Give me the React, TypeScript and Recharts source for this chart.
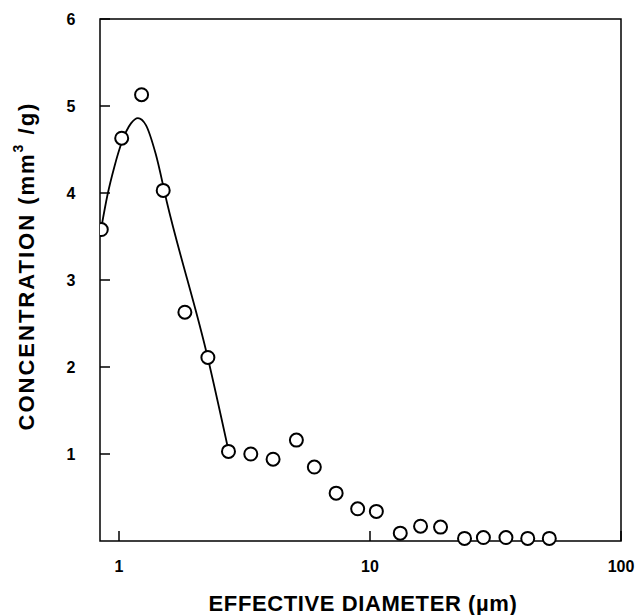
import { ComposedChart, Line, Scatter, XAxis, YAxis, ReferenceArea } from "recharts";

// measured points: effective diameter (µm) vs concentration (mm3/g)
const diameters = [0.85, 1.025, 1.23, 1.5, 1.83, 2.26, 2.73, 3.35, 4.11, 5.09, 6.0, 7.33, 8.93, 10.6, 13.2, 15.9, 19.1, 23.8, 28.3, 34.8, 42.5, 51.8];
const concentrations = [3.58, 4.63, 5.13, 4.03, 2.63, 2.11, 1.03, 1.0, 0.94, 1.16, 0.85, 0.55, 0.37, 0.34, 0.09, 0.17, 0.16, 0.03, 0.04, 0.04, 0.03, 0.03];

// fitted curve
const curveX = [0.85, 0.9, 0.958, 1.025, 1.116, 1.19, 1.28, 1.4, 1.55, 2.26, 2.73];
const curveY = [3.6, 3.98, 4.3, 4.58, 4.8, 4.86, 4.78, 4.45, 3.9, 2.1, 1.04];

const xTicks = [1, 10, 100];
const yTicks = [1, 2, 3, 4, 5, 6];

const points = diameters.map((d, i) => ({ d, c: concentrations[i] }));
const curve = curveX.map((d, i) => ({ d, c: curveY[i] }));

const font = "'Liberation Sans', Arial, sans-serif";

const XTick = ({ x, y, payload }: any) => (
  <g>
    <line x1={x} x2={x} y1={y} y2={y - 10} stroke="#000" strokeWidth={1.5} />
    <text x={x} y={y + 25} textAnchor="middle" dominantBaseline="central" fontFamily={font} fontWeight="bold" fontSize={16} fill="#000">
      {payload.value}
    </text>
  </g>
);

const YTick = ({ x, y, payload }: any) => (
  <g>
    <line x1={x} x2={x + 10} y1={y} y2={y} stroke="#000" strokeWidth={1.5} />
    <text x={x - 29} y={y} textAnchor="middle" dominantBaseline="central" fontFamily={font} fontWeight="bold" fontSize={16} fill="#000">
      {payload.value}
    </text>
  </g>
);

const YTitle = () => (
  <text x={26} y={266} transform="rotate(-90 26 266)" textAnchor="middle" dominantBaseline="central" fontFamily={font} fontWeight="bold" fontSize={22} letterSpacing={2} fill="#000">
    CONCENTRATION (mm<tspan fontSize={14} dy={-8}>3</tspan><tspan dy={8}> /g)</tspan>
  </text>
);

const XTitle = () => (
  <text x={363} y={603} textAnchor="middle" dominantBaseline="central" fontFamily={font} fontWeight="bold" fontSize={22} letterSpacing={0.6} fill="#000">
    EFFECTIVE DIAMETER (µm)
  </text>
);

const Circle = ({ cx, cy }: any) => <circle cx={cx} cy={cy} r={6.5} fill="#fff" stroke="#000" strokeWidth={2} />;

export default function App() {
  return (
    <div style={{ position: "absolute", left: 0, top: 0, background: "#fff" }}>
      <ComposedChart width={642} height={615} margin={{ top: 19, right: 21, left: 0, bottom: 0 }}>
        <XAxis
          dataKey="d"
          type="number"
          scale="log"
          domain={[0.84, 100]}
          allowDataOverflow
          ticks={xTicks}
          height={74}
          tickSize={0}
          tickMargin={0}
          axisLine={false}
          tick={<XTick />}
          label={<XTitle />}
        />
        <YAxis
          dataKey="c"
          type="number"
          domain={[0, 6]}
          ticks={yTicks}
          width={100}
          tickSize={0}
          tickMargin={0}
          axisLine={false}
          tick={<YTick />}
          label={<YTitle />}
        />
        <ReferenceArea x1={0.84} x2={100} y1={0} y2={6} fill="none" stroke="#000" strokeWidth={1.5} />
        <Line data={curve} dataKey="c" type="monotone" stroke="#000" strokeWidth={1.8} dot={false} isAnimationActive={false} />
        <Scatter data={points} dataKey="c" shape={<Circle />} isAnimationActive={false} />
      </ComposedChart>
    </div>
  );
}
